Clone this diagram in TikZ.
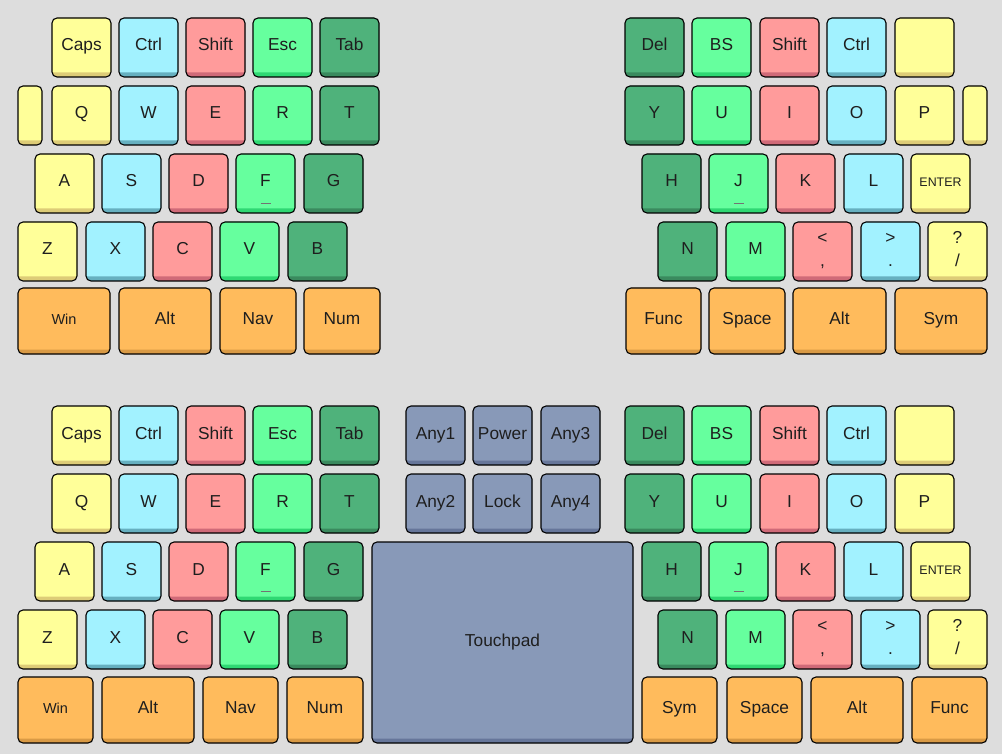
\documentclass[tikz,border=0pt]{standalone}
\usepackage{fontspec}
\setmainfont{Liberation Sans}
\definecolor{bg}{HTML}{DDDDDD}
\definecolor{yelL}{HTML}{FFFF99}\definecolor{yelD}{HTML}{DDCC77}
\definecolor{cyaL}{HTML}{A2F2FF}\definecolor{cyaD}{HTML}{66B0C0}
\definecolor{pinL}{HTML}{FF9B9B}\definecolor{pinD}{HTML}{D06A78}
\definecolor{lgrL}{HTML}{66FF9E}\definecolor{lgrD}{HTML}{2FD873}
\definecolor{dgrL}{HTML}{4FB27B}\definecolor{dgrD}{HTML}{3A8A5E}
\definecolor{oraL}{HTML}{FFBB5C}\definecolor{oraD}{HTML}{D99A45}
\definecolor{slaL}{HTML}{8899B8}\definecolor{slaD}{HTML}{66769A}
\definecolor{txt}{HTML}{1E1E1E}
\tikzset{
  key/.style={draw=black,line width=1.1pt,rounded corners=5pt,inner sep=0pt,
    text=txt,font=\fontsize{17.3}{23}\selectfont,text height=12pt,text depth=5pt},
  twoline/.style={align=center,text height=,text depth=},
  keytop/.style={path picture={\fill[#1,rounded corners=4pt]
      ([xshift=-2pt,yshift=2pt]path picture bounding box.north west) rectangle
      ([xshift=2pt,yshift=4.5pt]path picture bounding box.south east);}},
  yel/.style={fill=yelD,keytop=yelL},
  cya/.style={fill=cyaD,keytop=cyaL},
  pin/.style={fill=pinD,keytop=pinL},
  lgr/.style={fill=lgrD,keytop=lgrL},
  dgr/.style={fill=dgrD,keytop=dgrL},
  ora/.style={fill=oraD,keytop=oraL},
  sla/.style={fill=slaD,keytop=slaL},
  small/.style={font=\fontsize{14.5}{16}\selectfont,text height=11pt,text depth=5pt},
  tiny/.style={font=\fontsize{12.4}{14}\selectfont,text height=10pt,text depth=4pt},
  homebar/.style={draw=black!55,line width=0.8pt}
}
% name, x, y, w, h, style, text
\newcommand\K[7]{\node[key,#6,minimum width=#4pt,minimum height=#5pt] (#1) at ({#2+#4/2},{-(#3+#5/2)}) {#7};}
\newcommand\Ks[5]{\K{#1}{#2}{#3}{59}{59}{#4}{#5}}
\newcommand\TwoL[2]{\rule{0pt}{12.5pt}#1\\#2\rule[-5pt]{0pt}{5pt}}
\begin{document}
\begin{tikzpicture}[x=1pt,y=1pt]
\fill[bg] (0,0) rectangle (1002,-754);
\useasboundingbox (0,0) rectangle (1002,-754);
% ===== top left =====
\Ks{tCaps}{52}{18}{yel}{Caps}
\Ks{tCtrlL}{119}{18}{cya}{Ctrl}
\Ks{tShiftL}{186}{18}{pin}{Shift}
\Ks{tEsc}{253}{18}{lgr}{Esc}
\Ks{tTab}{320}{18}{dgr}{Tab}
\K{tSmL}{18}{86}{24}{59}{yel}{}
\Ks{tQ}{52}{86}{yel}{Q}
\Ks{tW}{119}{86}{cya}{W}
\Ks{tE}{186}{86}{pin}{E}
\Ks{tR}{253}{86}{lgr}{R}
\Ks{tT}{320}{86}{dgr}{T}
\Ks{tA}{35}{154}{yel}{A}
\Ks{tS}{102}{154}{cya}{S}
\Ks{tD}{169}{154}{pin}{D}
\Ks{tF}{236}{154}{lgr}{F}
\Ks{tG}{304}{154}{dgr}{G}
\Ks{tZ}{18}{222}{yel}{Z}
\Ks{tX}{86}{222}{cya}{X}
\Ks{tC}{153}{222}{pin}{C}
\Ks{tV}{220}{222}{lgr}{V}
\Ks{tB}{288}{222}{dgr}{B}
\K{tWin}{18}{288}{92}{66}{ora,small}{Win}
\K{tAltL}{119}{288}{92}{66}{ora}{Alt}
\K{tNav}{220}{288}{76}{66}{ora}{Nav}
\K{tNum}{304}{288}{76}{66}{ora}{Num}
% ===== top right =====
\Ks{tDel}{625}{18}{dgr}{Del}
\Ks{tBS}{692}{18}{lgr}{BS}
\Ks{tShiftR}{760}{18}{pin}{Shift}
\Ks{tCtrlR}{827}{18}{cya}{Ctrl}
\Ks{tBlank}{895}{18}{yel}{}
\Ks{tY}{625}{86}{dgr}{Y}
\Ks{tU}{692}{86}{lgr}{U}
\Ks{tI}{760}{86}{pin}{I}
\Ks{tO}{827}{86}{cya}{O}
\Ks{tP}{895}{86}{yel}{P}
\K{tSmR}{963}{86}{24}{59}{yel}{}
\Ks{tH}{642}{154}{dgr}{H}
\Ks{tJ}{709}{154}{lgr}{J}
\Ks{tK}{776}{154}{pin}{K}
\Ks{tL}{844}{154}{cya}{L}
\Ks{tEnter}{911}{154}{yel,tiny}{ENTER}
\Ks{tN}{658}{222}{dgr}{N}
\Ks{tM}{726}{222}{lgr}{M}
\Ks{tComma}{793}{222}{pin,twoline}{\TwoL{<}{,}}
\Ks{tDot}{861}{222}{cya,twoline}{\TwoL{>}{.}}
\Ks{tSlash}{928}{222}{yel,twoline}{\TwoL{?}{/}}
\K{tFunc}{626}{288}{75}{66}{ora}{Func}
\K{tSpace}{709}{288}{76}{66}{ora}{Space}
\K{tAltR}{793}{288}{93}{66}{ora}{Alt}
\K{tSym}{895}{288}{92}{66}{ora}{Sym}
% ===== bottom left =====
\Ks{bCaps}{52}{406}{yel}{Caps}
\Ks{bCtrlL}{119}{406}{cya}{Ctrl}
\Ks{bShiftL}{186}{406}{pin}{Shift}
\Ks{bEsc}{253}{406}{lgr}{Esc}
\Ks{bTab}{320}{406}{dgr}{Tab}
\Ks{bQ}{52}{474}{yel}{Q}
\Ks{bW}{119}{474}{cya}{W}
\Ks{bE}{186}{474}{pin}{E}
\Ks{bR}{253}{474}{lgr}{R}
\Ks{bT}{320}{474}{dgr}{T}
\Ks{bA}{35}{542}{yel}{A}
\Ks{bS}{102}{542}{cya}{S}
\Ks{bD}{169}{542}{pin}{D}
\Ks{bF}{236}{542}{lgr}{F}
\Ks{bG}{304}{542}{dgr}{G}
\Ks{bZ}{18}{610}{yel}{Z}
\Ks{bX}{86}{610}{cya}{X}
\Ks{bC}{153}{610}{pin}{C}
\Ks{bV}{220}{610}{lgr}{V}
\Ks{bB}{288}{610}{dgr}{B}
\K{bWin}{18}{677}{75}{66}{ora,small}{Win}
\K{bAltL}{102}{677}{92}{66}{ora}{Alt}
\K{bNav}{203}{677}{75}{66}{ora}{Nav}
\K{bNum}{287}{677}{76}{66}{ora}{Num}
% ===== middle =====
\Ks{bAny1}{406}{406}{sla}{Any1}
\Ks{bPower}{473}{406}{sla}{Power}
\Ks{bAny3}{541}{406}{sla}{Any3}
\Ks{bAny2}{406}{474}{sla}{Any2}
\Ks{bLock}{473}{474}{sla}{Lock}
\Ks{bAny4}{541}{474}{sla}{Any4}
\K{bTouch}{372}{542}{261}{201}{sla}{Touchpad}
% ===== bottom right =====
\Ks{bDel}{625}{406}{dgr}{Del}
\Ks{bBS}{692}{406}{lgr}{BS}
\Ks{bShiftR}{760}{406}{pin}{Shift}
\Ks{bCtrlR}{827}{406}{cya}{Ctrl}
\Ks{bBlank}{895}{406}{yel}{}
\Ks{bY}{625}{474}{dgr}{Y}
\Ks{bU}{692}{474}{lgr}{U}
\Ks{bI}{760}{474}{pin}{I}
\Ks{bO}{827}{474}{cya}{O}
\Ks{bP}{895}{474}{yel}{P}
\Ks{bH}{642}{542}{dgr}{H}
\Ks{bJ}{709}{542}{lgr}{J}
\Ks{bK}{776}{542}{pin}{K}
\Ks{bL}{844}{542}{cya}{L}
\Ks{bEnter}{911}{542}{yel,tiny}{ENTER}
\Ks{bN}{658}{610}{dgr}{N}
\Ks{bM}{726}{610}{lgr}{M}
\Ks{bComma}{793}{610}{pin,twoline}{\TwoL{<}{,}}
\Ks{bDot}{861}{610}{cya,twoline}{\TwoL{>}{.}}
\Ks{bSlash}{928}{610}{yel,twoline}{\TwoL{?}{/}}
\K{bSym}{642}{677}{75}{66}{ora}{Sym}
\K{bSpace}{727}{677}{75}{66}{ora}{Space}
\K{bAltR}{811}{677}{92}{66}{ora}{Alt}
\K{bFunc}{912}{677}{75}{66}{ora}{Func}
% home row bars
\foreach \k in {tF,tJ,bF,bJ}{
  \draw[homebar] ([xshift=-5pt,yshift=10pt]\k.south) -- ([xshift=5pt,yshift=10pt]\k.south);
}
\end{tikzpicture}
\end{document}
